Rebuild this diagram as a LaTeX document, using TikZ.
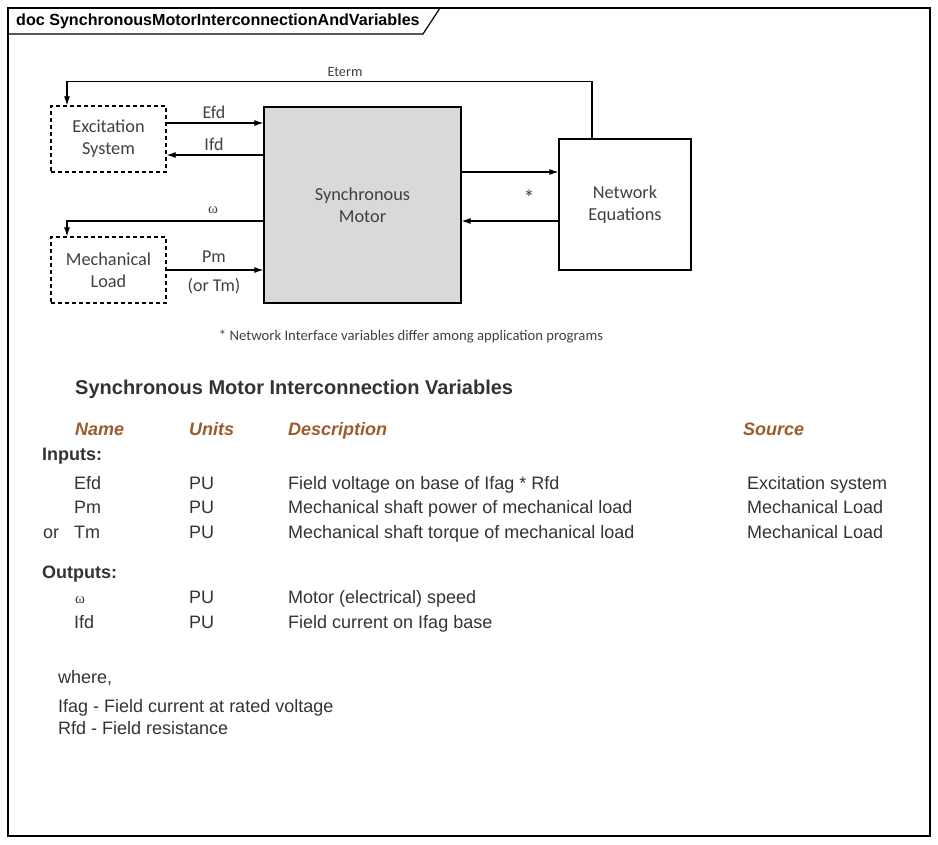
\documentclass[tikz,border=0pt]{standalone}
\usepackage{fontspec}
\setmainfont{Liberation Sans}
\newfontfamily\calfont{Carlito}
\newfontfamily\grkfont{Liberation Serif}
\usetikzlibrary{arrows.meta}
\definecolor{boxgray}{HTML}{D9D9D9}
\definecolor{txtgray}{HTML}{404040}
\definecolor{tblgray}{HTML}{333333}
\definecolor{hdrbrown}{HTML}{9C5B2E}
\tikzset{
  blk/.style={draw, line width=1.2pt, inner sep=0pt, align=center,
    font=\calfont\fontsize{18.3}{22}\selectfont, text=txtgray},
  dashblk/.style={blk, dash pattern=on 4pt off 3pt},
  sig/.style={line width=1.1pt, -{Latex[length=9pt,width=6pt]}},
  lbl/.style={inner sep=0pt, font=\calfont\fontsize{18}{20}\selectfont, text=txtgray},
  tbl/.style={anchor=base west, inner sep=0pt, font=\fontsize{18}{21}\selectfont, text=tblgray},
  colhd/.style={tbl, font=\bfseries\itshape\fontsize{18}{21}\selectfont, text=hdrbrown},
  grp/.style={tbl, font=\bfseries\fontsize{18}{21}\selectfont},
}
\begin{document}
\begin{tikzpicture}[x=1pt,y=-1pt]
\useasboundingbox (0,0) rectangle (938,845);

% frame and tab
\draw[line width=1.5pt] (8,8) rectangle (930,836);
\draw[line width=1.2pt] (8,34) -- (423,34) -- (440,8);
\node[anchor=west, inner sep=0pt, font=\bfseries\fontsize{16.1}{18}\selectfont] (doc) at (16,21) {doc SynchronousMotorInterconnectionAndVariables};

% blocks
\node[dashblk, minimum width=115pt, minimum height=66pt] (exc) at (108.5,139) {Excitation\\System};
\node[dashblk, minimum width=115pt, minimum height=66pt] (mech) at (108.5,270) {Mechanical\\Load};
\node[blk, fill=boxgray, minimum width=197pt, minimum height=196pt] (mot) at (362.5,205) {Synchronous\\Motor};
\node[blk, minimum width=132pt, minimum height=131pt] (net) at (625,204.5) {Network\\Equations};

% signals
\draw[sig] ([yshift=16pt]exc.east) -- ([yshift=16pt]exc.east -| mot.west);
\draw[sig] ([yshift=-16pt]exc.east -| mot.west) -- ([yshift=-16pt]exc.east);
\draw[sig] ([yshift=-16pt]mot.west) -| ([xshift=-41.5pt]mech.north);
\draw[sig] (mech.east) -- (mech.east -| mot.west);
\draw[sig] ([xshift=-33pt]net.north) -- ++(0,-57) -| ([xshift=-41.5pt]exc.north);
\draw[sig] ([yshift=33pt]mot.east) -- ([yshift=33pt]mot.east -| net.west);
\draw[sig] ([yshift=-16pt]mot.east -| net.west) -- ([yshift=-16pt]mot.east);

\node[lbl] (efd) at (214,112) {Efd};
\node[lbl] (ifd) at (214,144) {Ifd};
\node[lbl, font=\grkfont\fontsize{15}{17}\selectfont] (w) at (213,210) {ω};
\node[lbl] (pm) at (214,257) {Pm};
\node[lbl] (tm) at (214,286) {(or Tm)};
\node[lbl, font=\calfont\fontsize{14.3}{16}\selectfont] (eterm) at (345,72) {Eterm};
\node[lbl, font=\calfont\fontsize{22}{24}\selectfont] (star) at (529,198) {*};
\node[lbl, font=\calfont\fontsize{14.7}{17}\selectfont] (note) at (411,337) {* Network Interface variables differ among application programs};

% table
\node[tbl, font=\bfseries\fontsize{20}{23}\selectfont] (title) at (75,395) {Synchronous Motor Interconnection Variables};
\node[colhd] (hname) at (75,435) {Name};
\node[colhd] (hunit) at (189,435) {Units};
\node[colhd] (hdesc) at (288,435) {Description};
\node[colhd] (hsrc) at (743,435) {Source};

\node[grp] (inputs) at (42,460) {Inputs:};
\node[tbl] (n1) at (74,489) {Efd};
\node[tbl] (u1) at (189,489) {PU};
\node[tbl] (d1) at (288,489) {Field voltage on base of Ifag * Rfd};
\node[tbl] (s1) at (747,489) {Excitation system};
\node[tbl] (n2) at (74,513) {Pm};
\node[tbl] (u2) at (189,513) {PU};
\node[tbl] (d2) at (288,513) {Mechanical shaft power of mechanical load};
\node[tbl] (s2) at (747,513) {Mechanical Load};
\node[tbl] (or) at (43,538) {or};
\node[tbl] (n3) at (74,538) {Tm};
\node[tbl] (u3) at (189,538) {PU};
\node[tbl] (d3) at (288,538) {Mechanical shaft torque of mechanical load};
\node[tbl] (s3) at (747,538) {Mechanical Load};

\node[grp] (outputs) at (42,578) {Outputs:};
\node[tbl, font=\grkfont\fontsize{15}{18}\selectfont] (n4) at (75,603) {ω};
\node[tbl] (u4) at (189,603) {PU};
\node[tbl] (d4) at (288,603) {Motor (electrical) speed};
\node[tbl] (n5) at (74,628) {Ifd};
\node[tbl] (u5) at (189,628) {PU};
\node[tbl] (d5) at (288,628) {Field current on Ifag base};

\node[tbl] (where) at (58,683) {where,};
\node[tbl] (ifag) at (58,712) {Ifag - Field current at rated voltage};
\node[tbl] (rfd) at (58,734) {Rfd - Field resistance};
\end{tikzpicture}
\end{document}
